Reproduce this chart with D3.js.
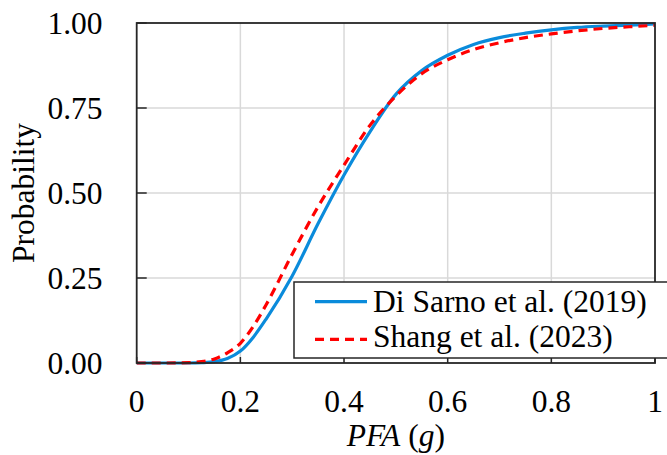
<!DOCTYPE html>
<html>
<head>
<meta charset="utf-8">
<script src="https://cdn.jsdelivr.net/npm/d3@7"></script>
</head>
<body style="margin:0">
<svg id="chart" width="667" height="455"></svg>
<script>
// Peak floor acceleration (g) sample points
const pfa = [0, 0.05, 0.1, 0.125, 0.15, 0.175, 0.2, 0.225, 0.25, 0.3, 0.35, 0.4, 0.45, 0.5,
             0.55, 0.6, 0.65, 0.7, 0.75, 0.8, 0.85, 0.9, 0.95, 1.0];

// Fragility curve, Di Sarno et al. (2019)
const diSarno = [0, 0, 0, 0.001, 0.004, 0.013, 0.035, 0.076, 0.130, 0.256, 0.410, 0.553, 0.680, 0.790,
                 0.860, 0.905, 0.937, 0.957, 0.970, 0.980, 0.987, 0.991, 0.994, 0.997];

// Fragility curve, Shang et al. (2023)
const shang = [0, 0, 0.001, 0.004, 0.012, 0.030, 0.058, 0.108, 0.172, 0.320, 0.460, 0.582, 0.699, 0.785,
               0.851, 0.892, 0.922, 0.942, 0.957, 0.968, 0.977, 0.984, 0.989, 0.993];

const xTicks = [0, 0.2, 0.4, 0.6, 0.8, 1];
const xTickLabels = ["0", "0.2", "0.4", "0.6", "0.8", "1"];
const yTicks = [0, 0.25, 0.5, 0.75, 1];
const yTickLabels = ["0.00", "0.25", "0.50", "0.75", "1.00"];

const seriesNames = ["Di Sarno et al. (2019)", "Shang et al. (2023)"];

const fontFamily = "Times New Roman";

const svg = d3.select("#chart");
const plot = { left: 136.7, right: 655, top: 23, bottom: 363 };

const x = d3.scaleLinear().domain([0, 1]).range([plot.left, plot.right]);
const y = d3.scaleLinear().domain([0, 1]).range([plot.bottom, plot.top]);

const fontSize = 31.5;
const frameColor = "#262626";
const gridColor = "#d9d9d9";
const blue = "#0A8BDB";
const red = "#FF0000";

// Gridlines
const grid = svg.append("g");
grid.selectAll("line.v").data(xTicks.slice(1, -1)).join("line")
  .attr("x1", d => x(d)).attr("x2", d => x(d))
  .attr("y1", plot.top).attr("y2", plot.bottom)
  .attr("stroke", gridColor).attr("stroke-width", 1.5);
grid.selectAll("line.h").data(yTicks.slice(1, -1)).join("line")
  .attr("x1", plot.left).attr("x2", plot.right)
  .attr("y1", d => y(d)).attr("y2", d => y(d))
  .attr("stroke", gridColor).attr("stroke-width", 1.5);

// Curves
const line = d3.line()
  .x(d => x(d[0]))
  .y(d => y(d[1]))
  .curve(d3.curveMonotoneX);

const blueData = pfa.map((v, i) => [v, diSarno[i]]);
const redData = pfa.map((v, i) => [v, shang[i]]);

svg.append("path").datum(blueData)
  .attr("d", line).attr("fill", "none")
  .attr("stroke", blue).attr("stroke-width", 3.2);
svg.append("path").datum(redData)
  .attr("d", line).attr("fill", "none")
  .attr("stroke", red).attr("stroke-width", 3.2)
  .attr("stroke-dasharray", "9,6");

// Inward tick marks
svg.append("g").selectAll("line").data(xTicks).join("line")
  .attr("x1", d => x(d)).attr("x2", d => x(d))
  .attr("y1", plot.bottom).attr("y2", plot.bottom - 6)
  .attr("stroke", frameColor).attr("stroke-width", 1.5);
svg.append("g").selectAll("line").data(yTicks).join("line")
  .attr("x1", plot.left).attr("x2", plot.left + 10)
  .attr("y1", d => y(d)).attr("y2", d => y(d))
  .attr("stroke", frameColor).attr("stroke-width", 1.5);

// Tick labels
svg.append("g").selectAll("text").data(xTicks).join("text")
  .attr("x", d => x(d)).attr("y", 412)
  .attr("text-anchor", "middle")
  .attr("font-family", fontFamily).attr("font-size", fontSize)
  .text((d, i) => xTickLabels[i]);
svg.append("g").selectAll("text").data(yTicks).join("text")
  .attr("x", 102.5).attr("y", d => y(d) + 10.5)
  .attr("text-anchor", "end")
  .attr("font-family", fontFamily).attr("font-size", fontSize)
  .text((d, i) => yTickLabels[i]);

// Plot frame
svg.append("rect")
  .attr("x", plot.left).attr("y", plot.top)
  .attr("width", plot.right - plot.left).attr("height", plot.bottom - plot.top)
  .attr("fill", "none").attr("stroke", frameColor).attr("stroke-width", 1.8);

// Axis titles
const xTitle = svg.append("text")
  .attr("x", (plot.left + plot.right) / 2).attr("y", 446)
  .attr("text-anchor", "middle")
  .attr("font-family", fontFamily).attr("font-size", fontSize);
xTitle.append("tspan").attr("font-style", "italic").text("PFA");
xTitle.append("tspan").text(" (");
xTitle.append("tspan").attr("font-style", "italic").text("g");
xTitle.append("tspan").text(")");

svg.append("text")
  .attr("transform", `translate(34,${(plot.top + plot.bottom) / 2}) rotate(-90)`)
  .attr("text-anchor", "middle")
  .attr("font-family", fontFamily).attr("font-size", fontSize)
  .text("Probability");

// Legend
const legend = svg.append("g").attr("transform", "translate(294,282)");
legend.append("rect")
  .attr("x", 0).attr("y", 0).attr("width", 390).attr("height", 76)
  .attr("fill", "#fff").attr("stroke", frameColor).attr("stroke-width", 1.5);

const legendRows = [
  { name: seriesNames[0], color: blue, dash: null, cy: 19.7, base: 29.7 },
  { name: seriesNames[1], color: red, dash: "9,6", cy: 57.3, base: 65 }
];
legendRows.forEach(r => {
  legend.append("line")
    .attr("x1", 21).attr("x2", 73).attr("y1", r.cy).attr("y2", r.cy)
    .attr("stroke", r.color).attr("stroke-width", 3.2)
    .attr("stroke-dasharray", r.dash);
  legend.append("text")
    .attr("x", 79).attr("y", r.base)
    .attr("font-family", fontFamily).attr("font-size", fontSize)
    .text(r.name);
});
</script>
</body>
</html>
